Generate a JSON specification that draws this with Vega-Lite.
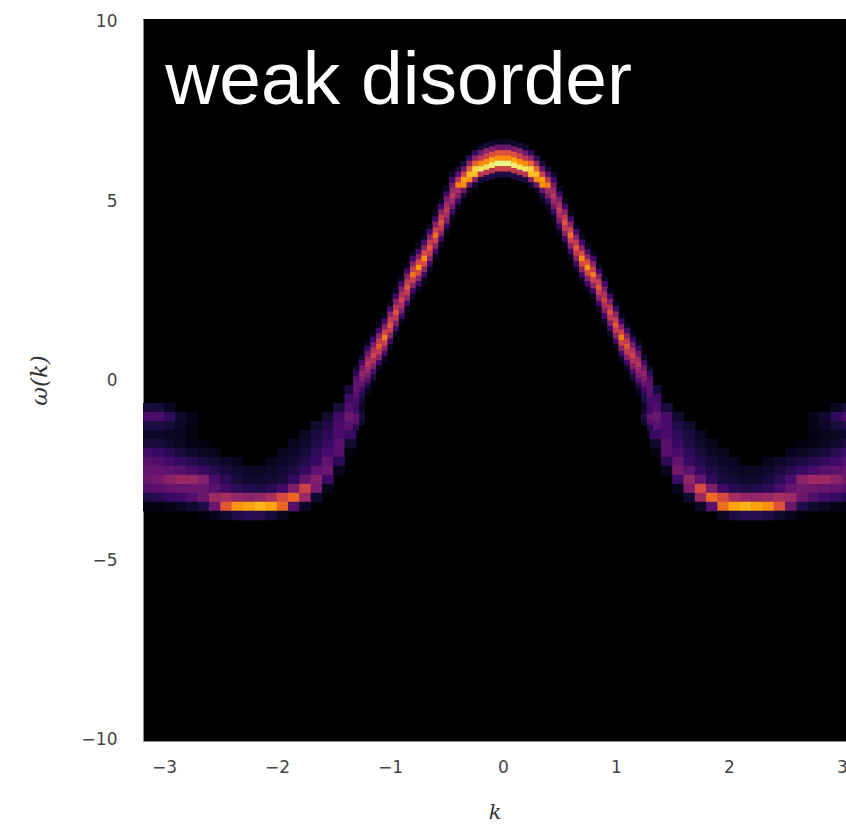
{"$schema":"https://vega.github.io/schema/vega-lite/v6.json","width":703,"height":722,"autosize":"none","padding":{"left":143,"top":19,"right":0,"bottom":84},"background":"white","view":{"fill":"black","stroke":null},
"datasets":{"skirt":[
{"k":-3.15,"w":-0.75,"v":0.1},{"k":-3.15,"w":-1,"v":0.22},{"k":-3.15,"w":-1.25,"v":0.12},{"k":-3.15,"w":-1.5,"v":0.07},{"k":-3.15,"w":-1.75,"v":0.1},{"k":-3.15,"w":-2,"v":0.2},{"k":-3.15,"w":-2.25,"v":0.25},{"k":-3.15,"w":-2.5,"v":0.28},{"k":-3.15,"w":-2.75,"v":0.3},{"k":-3.15,"w":-3,"v":0.25},{"k":-3.15,"w":-3.25,"v":0.12},{"k":-3.15,"w":-3.5,"v":0.03},
{"k":-3.05,"w":-0.75,"v":0.1},{"k":-3.05,"w":-1,"v":0.22},{"k":-3.05,"w":-1.25,"v":0.12},{"k":-3.05,"w":-1.5,"v":0.07},{"k":-3.05,"w":-1.75,"v":0.1},{"k":-3.05,"w":-2,"v":0.18},{"k":-3.05,"w":-2.25,"v":0.24},{"k":-3.05,"w":-2.5,"v":0.28},{"k":-3.05,"w":-2.75,"v":0.32},{"k":-3.05,"w":-3,"v":0.26},{"k":-3.05,"w":-3.25,"v":0.14},{"k":-3.05,"w":-3.5,"v":0.03},
{"k":-2.95,"w":-0.75,"v":0.06},{"k":-2.95,"w":-1,"v":0.16},{"k":-2.95,"w":-1.25,"v":0.1},{"k":-2.95,"w":-1.5,"v":0.06},{"k":-2.95,"w":-1.75,"v":0.08},{"k":-2.95,"w":-2,"v":0.14},{"k":-2.95,"w":-2.25,"v":0.2},{"k":-2.95,"w":-2.5,"v":0.27},{"k":-2.95,"w":-2.75,"v":0.38},{"k":-2.95,"w":-3,"v":0.28},{"k":-2.95,"w":-3.25,"v":0.17},{"k":-2.95,"w":-3.5,"v":0.04},
{"k":-2.85,"w":-1,"v":0.08},{"k":-2.85,"w":-1.25,"v":0.07},{"k":-2.85,"w":-1.5,"v":0.05},{"k":-2.85,"w":-1.75,"v":0.06},{"k":-2.85,"w":-2,"v":0.1},{"k":-2.85,"w":-2.25,"v":0.17},{"k":-2.85,"w":-2.5,"v":0.25},{"k":-2.85,"w":-2.75,"v":0.42},{"k":-2.85,"w":-3,"v":0.3},{"k":-2.85,"w":-3.25,"v":0.2},{"k":-2.85,"w":-3.5,"v":0.06},
{"k":-2.75,"w":-1,"v":0.04},{"k":-2.75,"w":-1.25,"v":0.04},{"k":-2.75,"w":-1.5,"v":0.03},{"k":-2.75,"w":-1.75,"v":0.04},{"k":-2.75,"w":-2,"v":0.08},{"k":-2.75,"w":-2.25,"v":0.14},{"k":-2.75,"w":-2.5,"v":0.22},{"k":-2.75,"w":-2.75,"v":0.42},{"k":-2.75,"w":-3,"v":0.3},{"k":-2.75,"w":-3.25,"v":0.24},{"k":-2.75,"w":-3.5,"v":0.08},
{"k":-2.65,"w":-1.75,"v":0.03},{"k":-2.65,"w":-2,"v":0.06},{"k":-2.65,"w":-2.25,"v":0.11},{"k":-2.65,"w":-2.5,"v":0.18},{"k":-2.65,"w":-2.75,"v":0.36},{"k":-2.65,"w":-3,"v":0.3},{"k":-2.65,"w":-3.25,"v":0.3},{"k":-2.65,"w":-3.5,"v":0.12},{"k":-2.65,"w":-3.75,"v":0.02},
{"k":-2.55,"w":-2,"v":0.05},{"k":-2.55,"w":-2.25,"v":0.09},{"k":-2.55,"w":-2.5,"v":0.14},{"k":-2.55,"w":-2.75,"v":0.22},{"k":-2.55,"w":-3,"v":0.26},{"k":-2.55,"w":-3.25,"v":0.42},{"k":-2.55,"w":-3.5,"v":0.3},{"k":-2.55,"w":-3.75,"v":0.05},
{"k":-2.45,"w":-2.25,"v":0.07},{"k":-2.45,"w":-2.5,"v":0.1},{"k":-2.45,"w":-2.75,"v":0.15},{"k":-2.45,"w":-3,"v":0.2},{"k":-2.45,"w":-3.25,"v":0.45},{"k":-2.45,"w":-3.5,"v":0.62},{"k":-2.45,"w":-3.75,"v":0.08},
{"k":-2.35,"w":-2.25,"v":0.05},{"k":-2.35,"w":-2.5,"v":0.08},{"k":-2.35,"w":-2.75,"v":0.1},{"k":-2.35,"w":-3,"v":0.15},{"k":-2.35,"w":-3.25,"v":0.4},{"k":-2.35,"w":-3.5,"v":0.76},{"k":-2.35,"w":-3.75,"v":0.12},
{"k":-2.25,"w":-2.5,"v":0.07},{"k":-2.25,"w":-2.75,"v":0.08},{"k":-2.25,"w":-3,"v":0.13},{"k":-2.25,"w":-3.25,"v":0.38},{"k":-2.25,"w":-3.5,"v":0.8},{"k":-2.25,"w":-3.75,"v":0.14},
{"k":-2.15,"w":-2.5,"v":0.06},{"k":-2.15,"w":-2.75,"v":0.08},{"k":-2.15,"w":-3,"v":0.12},{"k":-2.15,"w":-3.25,"v":0.4},{"k":-2.15,"w":-3.5,"v":0.84},{"k":-2.15,"w":-3.75,"v":0.14},
{"k":-2.05,"w":-2.25,"v":0.05},{"k":-2.05,"w":-2.5,"v":0.07},{"k":-2.05,"w":-2.75,"v":0.09},{"k":-2.05,"w":-3,"v":0.14},{"k":-2.05,"w":-3.25,"v":0.45},{"k":-2.05,"w":-3.5,"v":0.8},{"k":-2.05,"w":-3.75,"v":0.1},
{"k":-1.95,"w":-2,"v":0.05},{"k":-1.95,"w":-2.25,"v":0.07},{"k":-1.95,"w":-2.5,"v":0.09},{"k":-1.95,"w":-2.75,"v":0.1},{"k":-1.95,"w":-3,"v":0.2},{"k":-1.95,"w":-3.25,"v":0.58},{"k":-1.95,"w":-3.5,"v":0.66},{"k":-1.95,"w":-3.75,"v":0.05},
{"k":-1.85,"w":-1.75,"v":0.05},{"k":-1.85,"w":-2,"v":0.07},{"k":-1.85,"w":-2.25,"v":0.09},{"k":-1.85,"w":-2.5,"v":0.12},{"k":-1.85,"w":-2.75,"v":0.16},{"k":-1.85,"w":-3,"v":0.35},{"k":-1.85,"w":-3.25,"v":0.66},{"k":-1.85,"w":-3.5,"v":0.24},
{"k":-1.75,"w":-1.5,"v":0.06},{"k":-1.75,"w":-1.75,"v":0.08},{"k":-1.75,"w":-2,"v":0.1},{"k":-1.75,"w":-2.25,"v":0.13},{"k":-1.75,"w":-2.5,"v":0.17},{"k":-1.75,"w":-2.75,"v":0.28},{"k":-1.75,"w":-3,"v":0.55},{"k":-1.75,"w":-3.25,"v":0.42},{"k":-1.75,"w":-3.5,"v":0.07},
{"k":-1.65,"w":-1.25,"v":0.08},{"k":-1.65,"w":-1.5,"v":0.1},{"k":-1.65,"w":-1.75,"v":0.12},{"k":-1.65,"w":-2,"v":0.15},{"k":-1.65,"w":-2.25,"v":0.18},{"k":-1.65,"w":-2.5,"v":0.27},{"k":-1.65,"w":-2.75,"v":0.36},{"k":-1.65,"w":-3,"v":0.33},{"k":-1.65,"w":-3.25,"v":0.08},
{"k":-1.55,"w":-1,"v":0.08},{"k":-1.55,"w":-1.25,"v":0.12},{"k":-1.55,"w":-1.5,"v":0.15},{"k":-1.55,"w":-1.75,"v":0.18},{"k":-1.55,"w":-2,"v":0.22},{"k":-1.55,"w":-2.25,"v":0.27},{"k":-1.55,"w":-2.5,"v":0.3},{"k":-1.55,"w":-2.75,"v":0.2},{"k":-1.55,"w":-3,"v":0.05},
{"k":-1.45,"w":-0.75,"v":0.1},{"k":-1.45,"w":-1,"v":0.2},{"k":-1.45,"w":-1.25,"v":0.22},{"k":-1.45,"w":-1.5,"v":0.22},{"k":-1.45,"w":-1.75,"v":0.26},{"k":-1.45,"w":-2,"v":0.25},{"k":-1.45,"w":-2.25,"v":0.15},{"k":-1.45,"w":-2.5,"v":0.05},
{"k":-1.35,"w":-0.25,"v":0.1},{"k":-1.35,"w":-0.5,"v":0.2},{"k":-1.35,"w":-0.75,"v":0.24},{"k":-1.35,"w":-1,"v":0.3},{"k":-1.35,"w":-1.25,"v":0.26},{"k":-1.35,"w":-1.5,"v":0.18},{"k":-1.35,"w":-1.75,"v":0.08},{"k":-1.35,"w":-2,"v":0.03},
{"k":1.35,"w":-0.25,"v":0.1},{"k":1.35,"w":-0.5,"v":0.2},{"k":1.35,"w":-0.75,"v":0.24},{"k":1.35,"w":-1,"v":0.3},{"k":1.35,"w":-1.25,"v":0.26},{"k":1.35,"w":-1.5,"v":0.18},{"k":1.35,"w":-1.75,"v":0.08},{"k":1.35,"w":-2,"v":0.03},
{"k":1.45,"w":-0.75,"v":0.1},{"k":1.45,"w":-1,"v":0.22},{"k":1.45,"w":-1.25,"v":0.22},{"k":1.45,"w":-1.5,"v":0.22},{"k":1.45,"w":-1.75,"v":0.25},{"k":1.45,"w":-2,"v":0.25},{"k":1.45,"w":-2.25,"v":0.15},{"k":1.45,"w":-2.5,"v":0.05},
{"k":1.55,"w":-1,"v":0.08},{"k":1.55,"w":-1.25,"v":0.12},{"k":1.55,"w":-1.5,"v":0.15},{"k":1.55,"w":-1.75,"v":0.18},{"k":1.55,"w":-2,"v":0.22},{"k":1.55,"w":-2.25,"v":0.28},{"k":1.55,"w":-2.5,"v":0.32},{"k":1.55,"w":-2.75,"v":0.2},{"k":1.55,"w":-3,"v":0.05},
{"k":1.65,"w":-1.25,"v":0.08},{"k":1.65,"w":-1.5,"v":0.1},{"k":1.65,"w":-1.75,"v":0.12},{"k":1.65,"w":-2,"v":0.15},{"k":1.65,"w":-2.25,"v":0.18},{"k":1.65,"w":-2.5,"v":0.27},{"k":1.65,"w":-2.75,"v":0.4},{"k":1.65,"w":-3,"v":0.35},{"k":1.65,"w":-3.25,"v":0.08},
{"k":1.75,"w":-1.5,"v":0.06},{"k":1.75,"w":-1.75,"v":0.08},{"k":1.75,"w":-2,"v":0.1},{"k":1.75,"w":-2.25,"v":0.13},{"k":1.75,"w":-2.5,"v":0.17},{"k":1.75,"w":-2.75,"v":0.28},{"k":1.75,"w":-3,"v":0.58},{"k":1.75,"w":-3.25,"v":0.42},{"k":1.75,"w":-3.5,"v":0.07},
{"k":1.85,"w":-1.75,"v":0.05},{"k":1.85,"w":-2,"v":0.07},{"k":1.85,"w":-2.25,"v":0.09},{"k":1.85,"w":-2.5,"v":0.12},{"k":1.85,"w":-2.75,"v":0.16},{"k":1.85,"w":-3,"v":0.35},{"k":1.85,"w":-3.25,"v":0.67},{"k":1.85,"w":-3.5,"v":0.26},
{"k":1.95,"w":-2,"v":0.05},{"k":1.95,"w":-2.25,"v":0.07},{"k":1.95,"w":-2.5,"v":0.09},{"k":1.95,"w":-2.75,"v":0.1},{"k":1.95,"w":-3,"v":0.2},{"k":1.95,"w":-3.25,"v":0.58},{"k":1.95,"w":-3.5,"v":0.68},{"k":1.95,"w":-3.75,"v":0.06},
{"k":2.05,"w":-2.25,"v":0.05},{"k":2.05,"w":-2.5,"v":0.07},{"k":2.05,"w":-2.75,"v":0.09},{"k":2.05,"w":-3,"v":0.14},{"k":2.05,"w":-3.25,"v":0.45},{"k":2.05,"w":-3.5,"v":0.8},{"k":2.05,"w":-3.75,"v":0.11},
{"k":2.15,"w":-2.5,"v":0.06},{"k":2.15,"w":-2.75,"v":0.08},{"k":2.15,"w":-3,"v":0.12},{"k":2.15,"w":-3.25,"v":0.4},{"k":2.15,"w":-3.5,"v":0.83},{"k":2.15,"w":-3.75,"v":0.14},
{"k":2.25,"w":-2.5,"v":0.07},{"k":2.25,"w":-2.75,"v":0.08},{"k":2.25,"w":-3,"v":0.13},{"k":2.25,"w":-3.25,"v":0.4},{"k":2.25,"w":-3.5,"v":0.8},{"k":2.25,"w":-3.75,"v":0.14},
{"k":2.35,"w":-2.25,"v":0.05},{"k":2.35,"w":-2.5,"v":0.08},{"k":2.35,"w":-2.75,"v":0.1},{"k":2.35,"w":-3,"v":0.15},{"k":2.35,"w":-3.25,"v":0.42},{"k":2.35,"w":-3.5,"v":0.75},{"k":2.35,"w":-3.75,"v":0.12},
{"k":2.45,"w":-2.25,"v":0.07},{"k":2.45,"w":-2.5,"v":0.1},{"k":2.45,"w":-2.75,"v":0.15},{"k":2.45,"w":-3,"v":0.22},{"k":2.45,"w":-3.25,"v":0.45},{"k":2.45,"w":-3.5,"v":0.6},{"k":2.45,"w":-3.75,"v":0.08},
{"k":2.55,"w":-2,"v":0.05},{"k":2.55,"w":-2.25,"v":0.09},{"k":2.55,"w":-2.5,"v":0.14},{"k":2.55,"w":-2.75,"v":0.22},{"k":2.55,"w":-3,"v":0.28},{"k":2.55,"w":-3.25,"v":0.42},{"k":2.55,"w":-3.5,"v":0.3},{"k":2.55,"w":-3.75,"v":0.05},
{"k":2.65,"w":-1.75,"v":0.03},{"k":2.65,"w":-2,"v":0.06},{"k":2.65,"w":-2.25,"v":0.11},{"k":2.65,"w":-2.5,"v":0.18},{"k":2.65,"w":-2.75,"v":0.38},{"k":2.65,"w":-3,"v":0.32},{"k":2.65,"w":-3.25,"v":0.3},{"k":2.65,"w":-3.5,"v":0.12},{"k":2.65,"w":-3.75,"v":0.02},
{"k":2.75,"w":-1,"v":0.04},{"k":2.75,"w":-1.25,"v":0.04},{"k":2.75,"w":-1.5,"v":0.03},{"k":2.75,"w":-1.75,"v":0.04},{"k":2.75,"w":-2,"v":0.08},{"k":2.75,"w":-2.25,"v":0.14},{"k":2.75,"w":-2.5,"v":0.22},{"k":2.75,"w":-2.75,"v":0.43},{"k":2.75,"w":-3,"v":0.3},{"k":2.75,"w":-3.25,"v":0.24},{"k":2.75,"w":-3.5,"v":0.08},
{"k":2.85,"w":-1,"v":0.08},{"k":2.85,"w":-1.25,"v":0.07},{"k":2.85,"w":-1.5,"v":0.05},{"k":2.85,"w":-1.75,"v":0.06},{"k":2.85,"w":-2,"v":0.1},{"k":2.85,"w":-2.25,"v":0.17},{"k":2.85,"w":-2.5,"v":0.25},{"k":2.85,"w":-2.75,"v":0.43},{"k":2.85,"w":-3,"v":0.3},{"k":2.85,"w":-3.25,"v":0.2},{"k":2.85,"w":-3.5,"v":0.06},
{"k":2.95,"w":-0.75,"v":0.06},{"k":2.95,"w":-1,"v":0.16},{"k":2.95,"w":-1.25,"v":0.1},{"k":2.95,"w":-1.5,"v":0.06},{"k":2.95,"w":-1.75,"v":0.08},{"k":2.95,"w":-2,"v":0.14},{"k":2.95,"w":-2.25,"v":0.2},{"k":2.95,"w":-2.5,"v":0.27},{"k":2.95,"w":-2.75,"v":0.38},{"k":2.95,"w":-3,"v":0.28},{"k":2.95,"w":-3.25,"v":0.17},{"k":2.95,"w":-3.5,"v":0.04},
{"k":3.05,"w":-0.75,"v":0.1},{"k":3.05,"w":-1,"v":0.22},{"k":3.05,"w":-1.25,"v":0.12},{"k":3.05,"w":-1.5,"v":0.07},{"k":3.05,"w":-1.75,"v":0.1},{"k":3.05,"w":-2,"v":0.18},{"k":3.05,"w":-2.25,"v":0.24},{"k":3.05,"w":-2.5,"v":0.28},{"k":3.05,"w":-2.75,"v":0.32},{"k":3.05,"w":-3,"v":0.26},{"k":3.05,"w":-3.25,"v":0.14},{"k":3.05,"w":-3.5,"v":0.03}
],"arch":[
{"k":0,"w":6.65,"v":0.06},{"k":0,"w":6.5,"v":0.3},{"k":0,"w":6.35,"v":0.6},{"k":0,"w":6.2,"v":0.75},{"k":0,"w":6.05,"v":0.97},{"k":0,"w":5.9,"v":0.55},{"k":0,"w":5.75,"v":0.12},{"k":0,"w":5.6,"v":0.02},
{"k":-0.05,"w":6.65,"v":0.06},{"k":-0.05,"w":6.5,"v":0.3},{"k":-0.05,"w":6.35,"v":0.6},{"k":-0.05,"w":6.2,"v":0.75},{"k":-0.05,"w":6.05,"v":0.97},{"k":-0.05,"w":5.9,"v":0.55},{"k":-0.05,"w":5.75,"v":0.12},
{"k":0.05,"w":6.65,"v":0.06},{"k":0.05,"w":6.5,"v":0.3},{"k":0.05,"w":6.35,"v":0.6},{"k":0.05,"w":6.2,"v":0.75},{"k":0.05,"w":6.05,"v":0.97},{"k":0.05,"w":5.9,"v":0.55},{"k":0.05,"w":5.75,"v":0.12},
{"k":-0.1,"w":6.6,"v":0.08},{"k":-0.1,"w":6.45,"v":0.35},{"k":-0.1,"w":6.3,"v":0.6},{"k":-0.1,"w":6.15,"v":0.8},{"k":-0.1,"w":6,"v":0.95},{"k":-0.1,"w":5.85,"v":0.5},{"k":-0.1,"w":5.7,"v":0.12},
{"k":0.1,"w":6.6,"v":0.08},{"k":0.1,"w":6.45,"v":0.35},{"k":0.1,"w":6.3,"v":0.6},{"k":0.1,"w":6.15,"v":0.8},{"k":0.1,"w":6,"v":0.95},{"k":0.1,"w":5.85,"v":0.5},{"k":0.1,"w":5.7,"v":0.12},
{"k":-0.15,"w":6.55,"v":0.1},{"k":-0.15,"w":6.4,"v":0.38},{"k":-0.15,"w":6.25,"v":0.55},{"k":-0.15,"w":6.1,"v":0.75},{"k":-0.15,"w":5.95,"v":0.93},{"k":-0.15,"w":5.8,"v":0.5},{"k":-0.15,"w":5.65,"v":0.12},
{"k":0.15,"w":6.55,"v":0.1},{"k":0.15,"w":6.4,"v":0.38},{"k":0.15,"w":6.25,"v":0.55},{"k":0.15,"w":6.1,"v":0.75},{"k":0.15,"w":5.95,"v":0.93},{"k":0.15,"w":5.8,"v":0.5},{"k":0.15,"w":5.65,"v":0.12},
{"k":-0.2,"w":6.5,"v":0.08},{"k":-0.2,"w":6.35,"v":0.3},{"k":-0.2,"w":6.2,"v":0.5},{"k":-0.2,"w":6.05,"v":0.75},{"k":-0.2,"w":5.9,"v":0.93},{"k":-0.2,"w":5.75,"v":0.5},{"k":-0.2,"w":5.6,"v":0.1},
{"k":0.2,"w":6.5,"v":0.08},{"k":0.2,"w":6.35,"v":0.3},{"k":0.2,"w":6.2,"v":0.5},{"k":0.2,"w":6.05,"v":0.75},{"k":0.2,"w":5.9,"v":0.93},{"k":0.2,"w":5.75,"v":0.5},{"k":0.2,"w":5.6,"v":0.1},
{"k":-0.25,"w":6.35,"v":0.15},{"k":-0.25,"w":6.2,"v":0.4},{"k":-0.25,"w":6.05,"v":0.65},{"k":-0.25,"w":5.9,"v":0.9},{"k":-0.25,"w":5.75,"v":0.85},{"k":-0.25,"w":5.6,"v":0.4},{"k":-0.25,"w":5.45,"v":0.08},
{"k":0.25,"w":6.35,"v":0.15},{"k":0.25,"w":6.2,"v":0.4},{"k":0.25,"w":6.05,"v":0.65},{"k":0.25,"w":5.9,"v":0.9},{"k":0.25,"w":5.75,"v":0.85},{"k":0.25,"w":5.6,"v":0.4},{"k":0.25,"w":5.45,"v":0.08},
{"k":-0.3,"w":6.2,"v":0.15},{"k":-0.3,"w":6.05,"v":0.4},{"k":-0.3,"w":5.9,"v":0.65},{"k":-0.3,"w":5.75,"v":0.85},{"k":-0.3,"w":5.6,"v":0.75},{"k":-0.3,"w":5.45,"v":0.3},{"k":-0.3,"w":5.3,"v":0.05},
{"k":0.3,"w":6.2,"v":0.15},{"k":0.3,"w":6.05,"v":0.4},{"k":0.3,"w":5.9,"v":0.65},{"k":0.3,"w":5.75,"v":0.85},{"k":0.3,"w":5.6,"v":0.75},{"k":0.3,"w":5.45,"v":0.3},{"k":0.3,"w":5.3,"v":0.05},
{"k":-0.35,"w":6.05,"v":0.1},{"k":-0.35,"w":5.9,"v":0.3},{"k":-0.35,"w":5.75,"v":0.55},{"k":-0.35,"w":5.6,"v":0.8},{"k":-0.35,"w":5.45,"v":0.75},{"k":-0.35,"w":5.3,"v":0.3},{"k":-0.35,"w":5.15,"v":0.1},{"k":-0.35,"w":5,"v":0.03},
{"k":0.35,"w":6.05,"v":0.1},{"k":0.35,"w":5.9,"v":0.3},{"k":0.35,"w":5.75,"v":0.55},{"k":0.35,"w":5.6,"v":0.8},{"k":0.35,"w":5.45,"v":0.75},{"k":0.35,"w":5.3,"v":0.3},{"k":0.35,"w":5.15,"v":0.1},{"k":0.35,"w":5,"v":0.03},
{"k":-0.4,"w":5.9,"v":0.08},{"k":-0.4,"w":5.75,"v":0.25},{"k":-0.4,"w":5.6,"v":0.5},{"k":-0.4,"w":5.45,"v":0.72},{"k":-0.4,"w":5.3,"v":0.45},{"k":-0.4,"w":5.15,"v":0.35},{"k":-0.4,"w":5,"v":0.18},{"k":-0.4,"w":4.85,"v":0.06},
{"k":0.4,"w":5.9,"v":0.08},{"k":0.4,"w":5.75,"v":0.25},{"k":0.4,"w":5.6,"v":0.5},{"k":0.4,"w":5.45,"v":0.72},{"k":0.4,"w":5.3,"v":0.45},{"k":0.4,"w":5.15,"v":0.35},{"k":0.4,"w":5,"v":0.18},{"k":0.4,"w":4.85,"v":0.06},
{"k":-0.45,"w":5.75,"v":0.08},{"k":-0.45,"w":5.6,"v":0.2},{"k":-0.45,"w":5.45,"v":0.32},{"k":-0.45,"w":5.3,"v":0.42},{"k":-0.45,"w":5.15,"v":0.5},{"k":-0.45,"w":5,"v":0.42},{"k":-0.45,"w":4.85,"v":0.32},{"k":-0.45,"w":4.7,"v":0.18},{"k":-0.45,"w":4.55,"v":0.06},
{"k":0.45,"w":5.75,"v":0.08},{"k":0.45,"w":5.6,"v":0.2},{"k":0.45,"w":5.45,"v":0.32},{"k":0.45,"w":5.3,"v":0.42},{"k":0.45,"w":5.15,"v":0.5},{"k":0.45,"w":5,"v":0.42},{"k":0.45,"w":4.85,"v":0.32},{"k":0.45,"w":4.7,"v":0.18},{"k":0.45,"w":4.55,"v":0.06},
{"k":-0.5,"w":5.35,"v":0.06},{"k":-0.5,"w":5.2,"v":0.2},{"k":-0.5,"w":5.05,"v":0.34},{"k":-0.5,"w":4.9,"v":0.44},{"k":-0.5,"w":4.75,"v":0.52},{"k":-0.5,"w":4.6,"v":0.44},{"k":-0.5,"w":4.45,"v":0.34},{"k":-0.5,"w":4.3,"v":0.18},{"k":-0.5,"w":4.15,"v":0.06},
{"k":0.5,"w":5.35,"v":0.06},{"k":0.5,"w":5.2,"v":0.2},{"k":0.5,"w":5.05,"v":0.34},{"k":0.5,"w":4.9,"v":0.44},{"k":0.5,"w":4.75,"v":0.52},{"k":0.5,"w":4.6,"v":0.44},{"k":0.5,"w":4.45,"v":0.34},{"k":0.5,"w":4.3,"v":0.18},{"k":0.5,"w":4.15,"v":0.06},
{"k":-0.55,"w":5,"v":0.06},{"k":-0.55,"w":4.85,"v":0.2},{"k":-0.55,"w":4.7,"v":0.38},{"k":-0.55,"w":4.55,"v":0.52},{"k":-0.55,"w":4.4,"v":0.6},{"k":-0.55,"w":4.25,"v":0.52},{"k":-0.55,"w":4.1,"v":0.38},{"k":-0.55,"w":3.95,"v":0.2},{"k":-0.55,"w":3.8,"v":0.06},
{"k":0.55,"w":5,"v":0.06},{"k":0.55,"w":4.85,"v":0.2},{"k":0.55,"w":4.7,"v":0.38},{"k":0.55,"w":4.55,"v":0.52},{"k":0.55,"w":4.4,"v":0.6},{"k":0.55,"w":4.25,"v":0.52},{"k":0.55,"w":4.1,"v":0.38},{"k":0.55,"w":3.95,"v":0.2},{"k":0.55,"w":3.8,"v":0.06},
{"k":-0.6,"w":4.65,"v":0.06},{"k":-0.6,"w":4.5,"v":0.2},{"k":-0.6,"w":4.35,"v":0.38},{"k":-0.6,"w":4.2,"v":0.54},{"k":-0.6,"w":4.05,"v":0.68},{"k":-0.6,"w":3.9,"v":0.54},{"k":-0.6,"w":3.75,"v":0.38},{"k":-0.6,"w":3.6,"v":0.2},{"k":-0.6,"w":3.45,"v":0.06},
{"k":0.6,"w":4.65,"v":0.06},{"k":0.6,"w":4.5,"v":0.2},{"k":0.6,"w":4.35,"v":0.38},{"k":0.6,"w":4.2,"v":0.54},{"k":0.6,"w":4.05,"v":0.68},{"k":0.6,"w":3.9,"v":0.54},{"k":0.6,"w":3.75,"v":0.38},{"k":0.6,"w":3.6,"v":0.2},{"k":0.6,"w":3.45,"v":0.06},
{"k":-0.65,"w":4.3,"v":0.06},{"k":-0.65,"w":4.15,"v":0.2},{"k":-0.65,"w":4,"v":0.38},{"k":-0.65,"w":3.85,"v":0.52},{"k":-0.65,"w":3.7,"v":0.62},{"k":-0.65,"w":3.55,"v":0.52},{"k":-0.65,"w":3.4,"v":0.38},{"k":-0.65,"w":3.25,"v":0.2},{"k":-0.65,"w":3.1,"v":0.06},
{"k":0.65,"w":4.3,"v":0.06},{"k":0.65,"w":4.15,"v":0.2},{"k":0.65,"w":4,"v":0.38},{"k":0.65,"w":3.85,"v":0.52},{"k":0.65,"w":3.7,"v":0.62},{"k":0.65,"w":3.55,"v":0.52},{"k":0.65,"w":3.4,"v":0.38},{"k":0.65,"w":3.25,"v":0.2},{"k":0.65,"w":3.1,"v":0.06},
{"k":-0.7,"w":4,"v":0.06},{"k":-0.7,"w":3.85,"v":0.2},{"k":-0.7,"w":3.7,"v":0.38},{"k":-0.7,"w":3.55,"v":0.58},{"k":-0.7,"w":3.4,"v":0.75},{"k":-0.7,"w":3.25,"v":0.58},{"k":-0.7,"w":3.1,"v":0.38},{"k":-0.7,"w":2.95,"v":0.2},{"k":-0.7,"w":2.8,"v":0.06},
{"k":0.7,"w":4,"v":0.06},{"k":0.7,"w":3.85,"v":0.2},{"k":0.7,"w":3.7,"v":0.38},{"k":0.7,"w":3.55,"v":0.58},{"k":0.7,"w":3.4,"v":0.75},{"k":0.7,"w":3.25,"v":0.58},{"k":0.7,"w":3.1,"v":0.38},{"k":0.7,"w":2.95,"v":0.2},{"k":0.7,"w":2.8,"v":0.06},
{"k":-0.75,"w":3.75,"v":0.06},{"k":-0.75,"w":3.6,"v":0.2},{"k":-0.75,"w":3.45,"v":0.38},{"k":-0.75,"w":3.3,"v":0.58},{"k":-0.75,"w":3.15,"v":0.78},{"k":-0.75,"w":3,"v":0.58},{"k":-0.75,"w":2.85,"v":0.38},{"k":-0.75,"w":2.7,"v":0.2},{"k":-0.75,"w":2.55,"v":0.06},
{"k":0.75,"w":3.75,"v":0.06},{"k":0.75,"w":3.6,"v":0.2},{"k":0.75,"w":3.45,"v":0.38},{"k":0.75,"w":3.3,"v":0.58},{"k":0.75,"w":3.15,"v":0.78},{"k":0.75,"w":3,"v":0.58},{"k":0.75,"w":2.85,"v":0.38},{"k":0.75,"w":2.7,"v":0.2},{"k":0.75,"w":2.55,"v":0.06},
{"k":-0.8,"w":3.55,"v":0.06},{"k":-0.8,"w":3.4,"v":0.2},{"k":-0.8,"w":3.25,"v":0.38},{"k":-0.8,"w":3.1,"v":0.54},{"k":-0.8,"w":2.95,"v":0.7},{"k":-0.8,"w":2.8,"v":0.54},{"k":-0.8,"w":2.65,"v":0.38},{"k":-0.8,"w":2.5,"v":0.2},{"k":-0.8,"w":2.35,"v":0.06},
{"k":0.8,"w":3.55,"v":0.06},{"k":0.8,"w":3.4,"v":0.2},{"k":0.8,"w":3.25,"v":0.38},{"k":0.8,"w":3.1,"v":0.54},{"k":0.8,"w":2.95,"v":0.7},{"k":0.8,"w":2.8,"v":0.54},{"k":0.8,"w":2.65,"v":0.38},{"k":0.8,"w":2.5,"v":0.2},{"k":0.8,"w":2.35,"v":0.06},
{"k":-0.85,"w":3.2,"v":0.06},{"k":-0.85,"w":3.05,"v":0.2},{"k":-0.85,"w":2.9,"v":0.38},{"k":-0.85,"w":2.75,"v":0.52},{"k":-0.85,"w":2.6,"v":0.62},{"k":-0.85,"w":2.45,"v":0.52},{"k":-0.85,"w":2.3,"v":0.38},{"k":-0.85,"w":2.15,"v":0.2},{"k":-0.85,"w":2,"v":0.06},
{"k":0.85,"w":3.2,"v":0.06},{"k":0.85,"w":3.05,"v":0.2},{"k":0.85,"w":2.9,"v":0.38},{"k":0.85,"w":2.75,"v":0.52},{"k":0.85,"w":2.6,"v":0.62},{"k":0.85,"w":2.45,"v":0.52},{"k":0.85,"w":2.3,"v":0.38},{"k":0.85,"w":2.15,"v":0.2},{"k":0.85,"w":2,"v":0.06},
{"k":-0.9,"w":2.85,"v":0.06},{"k":-0.9,"w":2.7,"v":0.2},{"k":-0.9,"w":2.55,"v":0.36},{"k":-0.9,"w":2.4,"v":0.47},{"k":-0.9,"w":2.25,"v":0.55},{"k":-0.9,"w":2.1,"v":0.47},{"k":-0.9,"w":1.95,"v":0.36},{"k":-0.9,"w":1.8,"v":0.2},{"k":-0.9,"w":1.65,"v":0.06},
{"k":0.9,"w":2.85,"v":0.06},{"k":0.9,"w":2.7,"v":0.2},{"k":0.9,"w":2.55,"v":0.36},{"k":0.9,"w":2.4,"v":0.47},{"k":0.9,"w":2.25,"v":0.55},{"k":0.9,"w":2.1,"v":0.47},{"k":0.9,"w":1.95,"v":0.36},{"k":0.9,"w":1.8,"v":0.2},{"k":0.9,"w":1.65,"v":0.06},
{"k":-0.95,"w":2.5,"v":0.06},{"k":-0.95,"w":2.35,"v":0.2},{"k":-0.95,"w":2.2,"v":0.36},{"k":-0.95,"w":2.05,"v":0.5},{"k":-0.95,"w":1.9,"v":0.6},{"k":-0.95,"w":1.75,"v":0.5},{"k":-0.95,"w":1.6,"v":0.36},{"k":-0.95,"w":1.45,"v":0.2},{"k":-0.95,"w":1.3,"v":0.06},
{"k":0.95,"w":2.5,"v":0.06},{"k":0.95,"w":2.35,"v":0.2},{"k":0.95,"w":2.2,"v":0.36},{"k":0.95,"w":2.05,"v":0.5},{"k":0.95,"w":1.9,"v":0.6},{"k":0.95,"w":1.75,"v":0.5},{"k":0.95,"w":1.6,"v":0.36},{"k":0.95,"w":1.45,"v":0.2},{"k":0.95,"w":1.3,"v":0.06},
{"k":-1,"w":2.15,"v":0.06},{"k":-1,"w":2,"v":0.2},{"k":-1,"w":1.85,"v":0.38},{"k":-1,"w":1.7,"v":0.52},{"k":-1,"w":1.55,"v":0.62},{"k":-1,"w":1.4,"v":0.52},{"k":-1,"w":1.25,"v":0.38},{"k":-1,"w":1.1,"v":0.2},{"k":-1,"w":0.95,"v":0.06},
{"k":1,"w":2.15,"v":0.06},{"k":1,"w":2,"v":0.2},{"k":1,"w":1.85,"v":0.38},{"k":1,"w":1.7,"v":0.52},{"k":1,"w":1.55,"v":0.62},{"k":1,"w":1.4,"v":0.52},{"k":1,"w":1.25,"v":0.38},{"k":1,"w":1.1,"v":0.2},{"k":1,"w":0.95,"v":0.06},
{"k":-1.05,"w":1.8,"v":0.06},{"k":-1.05,"w":1.65,"v":0.2},{"k":-1.05,"w":1.5,"v":0.38},{"k":-1.05,"w":1.35,"v":0.55},{"k":-1.05,"w":1.2,"v":0.72},{"k":-1.05,"w":1.05,"v":0.55},{"k":-1.05,"w":0.9,"v":0.38},{"k":-1.05,"w":0.75,"v":0.2},{"k":-1.05,"w":0.6,"v":0.06},
{"k":1.05,"w":1.8,"v":0.06},{"k":1.05,"w":1.65,"v":0.2},{"k":1.05,"w":1.5,"v":0.38},{"k":1.05,"w":1.35,"v":0.55},{"k":1.05,"w":1.2,"v":0.72},{"k":1.05,"w":1.05,"v":0.55},{"k":1.05,"w":0.9,"v":0.38},{"k":1.05,"w":0.75,"v":0.2},{"k":1.05,"w":0.6,"v":0.06},
{"k":-1.1,"w":1.55,"v":0.06},{"k":-1.1,"w":1.4,"v":0.2},{"k":-1.1,"w":1.25,"v":0.38},{"k":-1.1,"w":1.1,"v":0.52},{"k":-1.1,"w":0.95,"v":0.62},{"k":-1.1,"w":0.8,"v":0.52},{"k":-1.1,"w":0.65,"v":0.38},{"k":-1.1,"w":0.5,"v":0.2},{"k":-1.1,"w":0.35,"v":0.06},
{"k":1.1,"w":1.55,"v":0.06},{"k":1.1,"w":1.4,"v":0.2},{"k":1.1,"w":1.25,"v":0.38},{"k":1.1,"w":1.1,"v":0.52},{"k":1.1,"w":0.95,"v":0.62},{"k":1.1,"w":0.8,"v":0.52},{"k":1.1,"w":0.65,"v":0.38},{"k":1.1,"w":0.5,"v":0.2},{"k":1.1,"w":0.35,"v":0.06},
{"k":-1.15,"w":1.3,"v":0.06},{"k":-1.15,"w":1.15,"v":0.18},{"k":-1.15,"w":1,"v":0.34},{"k":-1.15,"w":0.85,"v":0.47},{"k":-1.15,"w":0.7,"v":0.55},{"k":-1.15,"w":0.55,"v":0.47},{"k":-1.15,"w":0.4,"v":0.36},{"k":-1.15,"w":0.25,"v":0.22},{"k":-1.15,"w":0.1,"v":0.1},
{"k":1.15,"w":1.3,"v":0.06},{"k":1.15,"w":1.15,"v":0.18},{"k":1.15,"w":1,"v":0.34},{"k":1.15,"w":0.85,"v":0.47},{"k":1.15,"w":0.7,"v":0.55},{"k":1.15,"w":0.55,"v":0.47},{"k":1.15,"w":0.4,"v":0.36},{"k":1.15,"w":0.25,"v":0.22},{"k":1.15,"w":0.1,"v":0.1},
{"k":-1.2,"w":1.05,"v":0.06},{"k":-1.2,"w":0.9,"v":0.16},{"k":-1.2,"w":0.75,"v":0.3},{"k":-1.2,"w":0.6,"v":0.42},{"k":-1.2,"w":0.45,"v":0.5},{"k":-1.2,"w":0.3,"v":0.42},{"k":-1.2,"w":0.15,"v":0.34},{"k":-1.2,"w":0,"v":0.24},{"k":-1.2,"w":-0.15,"v":0.12},{"k":-1.2,"w":-0.3,"v":0.05},
{"k":1.2,"w":1.05,"v":0.06},{"k":1.2,"w":0.9,"v":0.16},{"k":1.2,"w":0.75,"v":0.3},{"k":1.2,"w":0.6,"v":0.42},{"k":1.2,"w":0.45,"v":0.5},{"k":1.2,"w":0.3,"v":0.42},{"k":1.2,"w":0.15,"v":0.34},{"k":1.2,"w":0,"v":0.24},{"k":1.2,"w":-0.15,"v":0.12},{"k":1.2,"w":-0.3,"v":0.05},
{"k":-1.25,"w":0.65,"v":0.08},{"k":-1.25,"w":0.5,"v":0.2},{"k":-1.25,"w":0.35,"v":0.32},{"k":-1.25,"w":0.2,"v":0.4},{"k":-1.25,"w":0.05,"v":0.35},{"k":-1.25,"w":-0.1,"v":0.28},{"k":-1.25,"w":-0.25,"v":0.2},{"k":-1.25,"w":-0.4,"v":0.14},{"k":-1.25,"w":-0.55,"v":0.1},{"k":-1.25,"w":-0.7,"v":0.06},{"k":-1.25,"w":-0.85,"v":0.08},{"k":-1.25,"w":-1,"v":0.12},{"k":-1.25,"w":-1.15,"v":0.08},
{"k":1.25,"w":0.65,"v":0.08},{"k":1.25,"w":0.5,"v":0.2},{"k":1.25,"w":0.35,"v":0.32},{"k":1.25,"w":0.2,"v":0.4},{"k":1.25,"w":0.05,"v":0.35},{"k":1.25,"w":-0.1,"v":0.28},{"k":1.25,"w":-0.25,"v":0.2},{"k":1.25,"w":-0.4,"v":0.14},{"k":1.25,"w":-0.55,"v":0.1},{"k":1.25,"w":-0.7,"v":0.06},{"k":1.25,"w":-0.85,"v":0.08},{"k":1.25,"w":-1,"v":0.12},{"k":1.25,"w":-1.15,"v":0.08},
{"k":-1.3,"w":0.35,"v":0.08},{"k":-1.3,"w":0.2,"v":0.16},{"k":-1.3,"w":0.05,"v":0.24},{"k":-1.3,"w":-0.1,"v":0.27},{"k":-1.3,"w":-0.25,"v":0.27},{"k":-1.3,"w":-0.4,"v":0.25},{"k":-1.3,"w":-0.55,"v":0.22},{"k":-1.3,"w":-0.7,"v":0.2},{"k":-1.3,"w":-0.85,"v":0.2},{"k":-1.3,"w":-1,"v":0.28},{"k":-1.3,"w":-1.15,"v":0.25},{"k":-1.3,"w":-1.3,"v":0.14},
{"k":1.3,"w":0.35,"v":0.08},{"k":1.3,"w":0.2,"v":0.16},{"k":1.3,"w":0.05,"v":0.24},{"k":1.3,"w":-0.1,"v":0.27},{"k":1.3,"w":-0.25,"v":0.27},{"k":1.3,"w":-0.4,"v":0.25},{"k":1.3,"w":-0.55,"v":0.22},{"k":1.3,"w":-0.7,"v":0.2},{"k":1.3,"w":-0.85,"v":0.2},{"k":1.3,"w":-1,"v":0.28},{"k":1.3,"w":-1.15,"v":0.25},{"k":1.3,"w":-1.3,"v":0.14}
],"label":[{"k":-2.99,"w":7.7,"t":"weak disorder"}]},
"encoding":{"x":{"field":"k","type":"quantitative","title":"k","scale":{"domain":[-3.186,3.036],"nice":false,"zero":false},
"axis":{"values":[-3,-2,-1,0,1,2,3],"ticks":false,"grid":false,"labelPadding":18,"labelFontSize":17,"labelFont":"DejaVu Sans","labelColor":"#444444","labelBound":false,"labelFlush":false,"labelOverlap":false,"domainColor":"#888888","titleFont":"DejaVu Serif","titleFontStyle":"italic","titleFontWeight":"normal","titleFontSize":21,"titleColor":"#333333","titlePadding":26}},
"y":{"field":"w","type":"quantitative","title":"ω(k)","scale":{"domain":[-10.03,10.08],"nice":false,"zero":false},
"axis":{"values":[-10,-5,0,5,10],"ticks":false,"grid":false,"labelPadding":26,"labelFontSize":17,"labelFont":"DejaVu Sans","labelColor":"#444444","labelBound":false,"labelFlush":false,"domainColor":"#888888","titleFont":"DejaVu Serif","titleFontStyle":"italic","titleFontWeight":"normal","titleFontSize":23,"titleColor":"#333333","titlePadding":30}}},
"layer":[
{"data":{"name":"skirt"},"mark":{"type":"rect","width":11.8,"height":9.6,"clip":true},"encoding":{"color":{"field":"v","type":"quantitative","legend":null,"scale":{"scheme":"inferno","domain":[0,1]}}}},
{"data":{"name":"arch"},"mark":{"type":"rect","width":6.2,"height":5.9,"clip":true},"encoding":{"color":{"field":"v","type":"quantitative","legend":null,"scale":{"scheme":"inferno","domain":[0,1]}}}},
{"data":{"name":"label"},"mark":{"type":"text","align":"left","baseline":"alphabetic","font":"Liberation Sans","fontSize":75,"color":"white"},"encoding":{"text":{"field":"t"}}}
]}
